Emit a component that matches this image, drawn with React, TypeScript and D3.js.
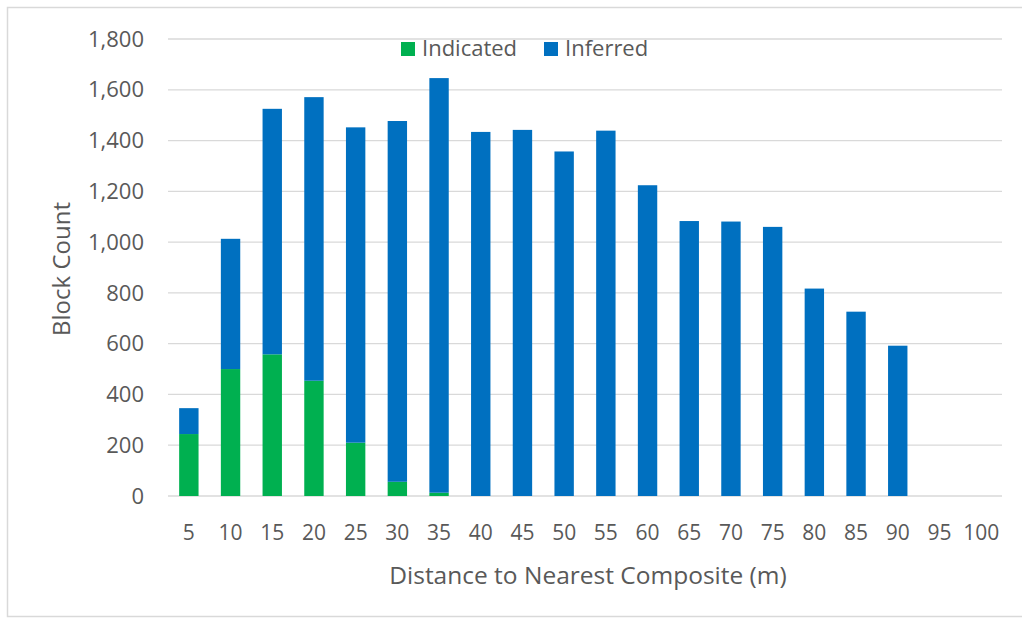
import React from "react";
import * as d3 from "d3";

const categories = ["5","10","15","20","25","30","35","40","45","50","55","60","65","70","75","80","85","90","95","100"];
const indicated = [244, 500, 558, 454, 210, 56, 13, 0, 0, 0, 0, 0, 0, 0, 0, 0, 0, 0, 0, 0];
const totals = [346, 1013, 1525, 1571, 1452, 1477, 1646, 1434, 1442, 1357, 1439, 1224, 1083, 1081, 1060, 817, 726, 592, 0, 0];
const inferred = totals.map((t, i) => t - indicated[i]);
const yTicks = [0, 200, 400, 600, 800, 1000, 1200, 1400, 1600, 1800];
const seriesNames = ["Indicated", "Inferred"];

const W = 1022, H = 618;
const GREEN = "#00B050";
const BLUE = "#0070C0";
const TEXT = "#595959";
const FONT = "'Open Sans', sans-serif";

export default function App() {
  const x = d3.scaleBand<string>().domain(categories).range([168, 1002]).paddingInner(0.535).paddingOuter(0.2675);
  const y = d3.scaleLinear().domain([0, 1800]).range([496, 39]);
  const fmt = d3.format(",");
  const colors = [GREEN, BLUE];
  return (
    <svg width={W} height={H} style={{ position: "absolute", left: 0, top: 0, background: "#fff" }} fontFamily={FONT}>
      <rect x={7.5} y={7.5} width={W + 10} height={609} fill="none" stroke="#D9D9D9" strokeWidth={1.5} />
      {yTicks.map((t) => (
        <g key={t}>
          <line x1={168} x2={1002} y1={y(t)} y2={y(t)} stroke="#D9D9D9" strokeWidth={1.3} />
          <text x={144} y={y(t)} dy="0.35em" textAnchor="end" fontSize={22} fill={TEXT}>{fmt(t)}</text>
        </g>
      ))}
      {categories.map((c, i) => (
        <g key={c}>
          {indicated[i] > 0 && (
            <rect x={x(c)} width={x.bandwidth()} y={y(indicated[i])} height={y(0) - y(indicated[i])} fill={GREEN} />
          )}
          {inferred[i] > 0 && (
            <rect x={x(c)} width={x.bandwidth()} y={y(totals[i])} height={y(indicated[i]) - y(totals[i])} fill={BLUE} />
          )}
          <text x={(x(c) as number) + x.bandwidth() / 2} y={533} dy="0.35em" textAnchor="middle" fontSize={21} fill={TEXT}>{c}</text>
        </g>
      ))}
      <text x={588} y={575} dy="0.35em" textAnchor="middle" fontSize={24.5} fill={TEXT}>Distance to Nearest Composite (m)</text>
      <text transform="translate(62,269) rotate(-90)" dy="0.35em" textAnchor="middle" fontSize={24} fill={TEXT}>Block Count</text>
      {seriesNames.map((s, i) => {
        const lx = i === 0 ? 401 : 544;
        return (
          <g key={s}>
            <rect x={lx} y={42} width={14} height={14} fill={colors[i]} />
            <text x={lx + 21} y={48} dy="0.35em" fontSize={22} fill={TEXT}>{s}</text>
          </g>
        );
      })}
    </svg>
  );
}
